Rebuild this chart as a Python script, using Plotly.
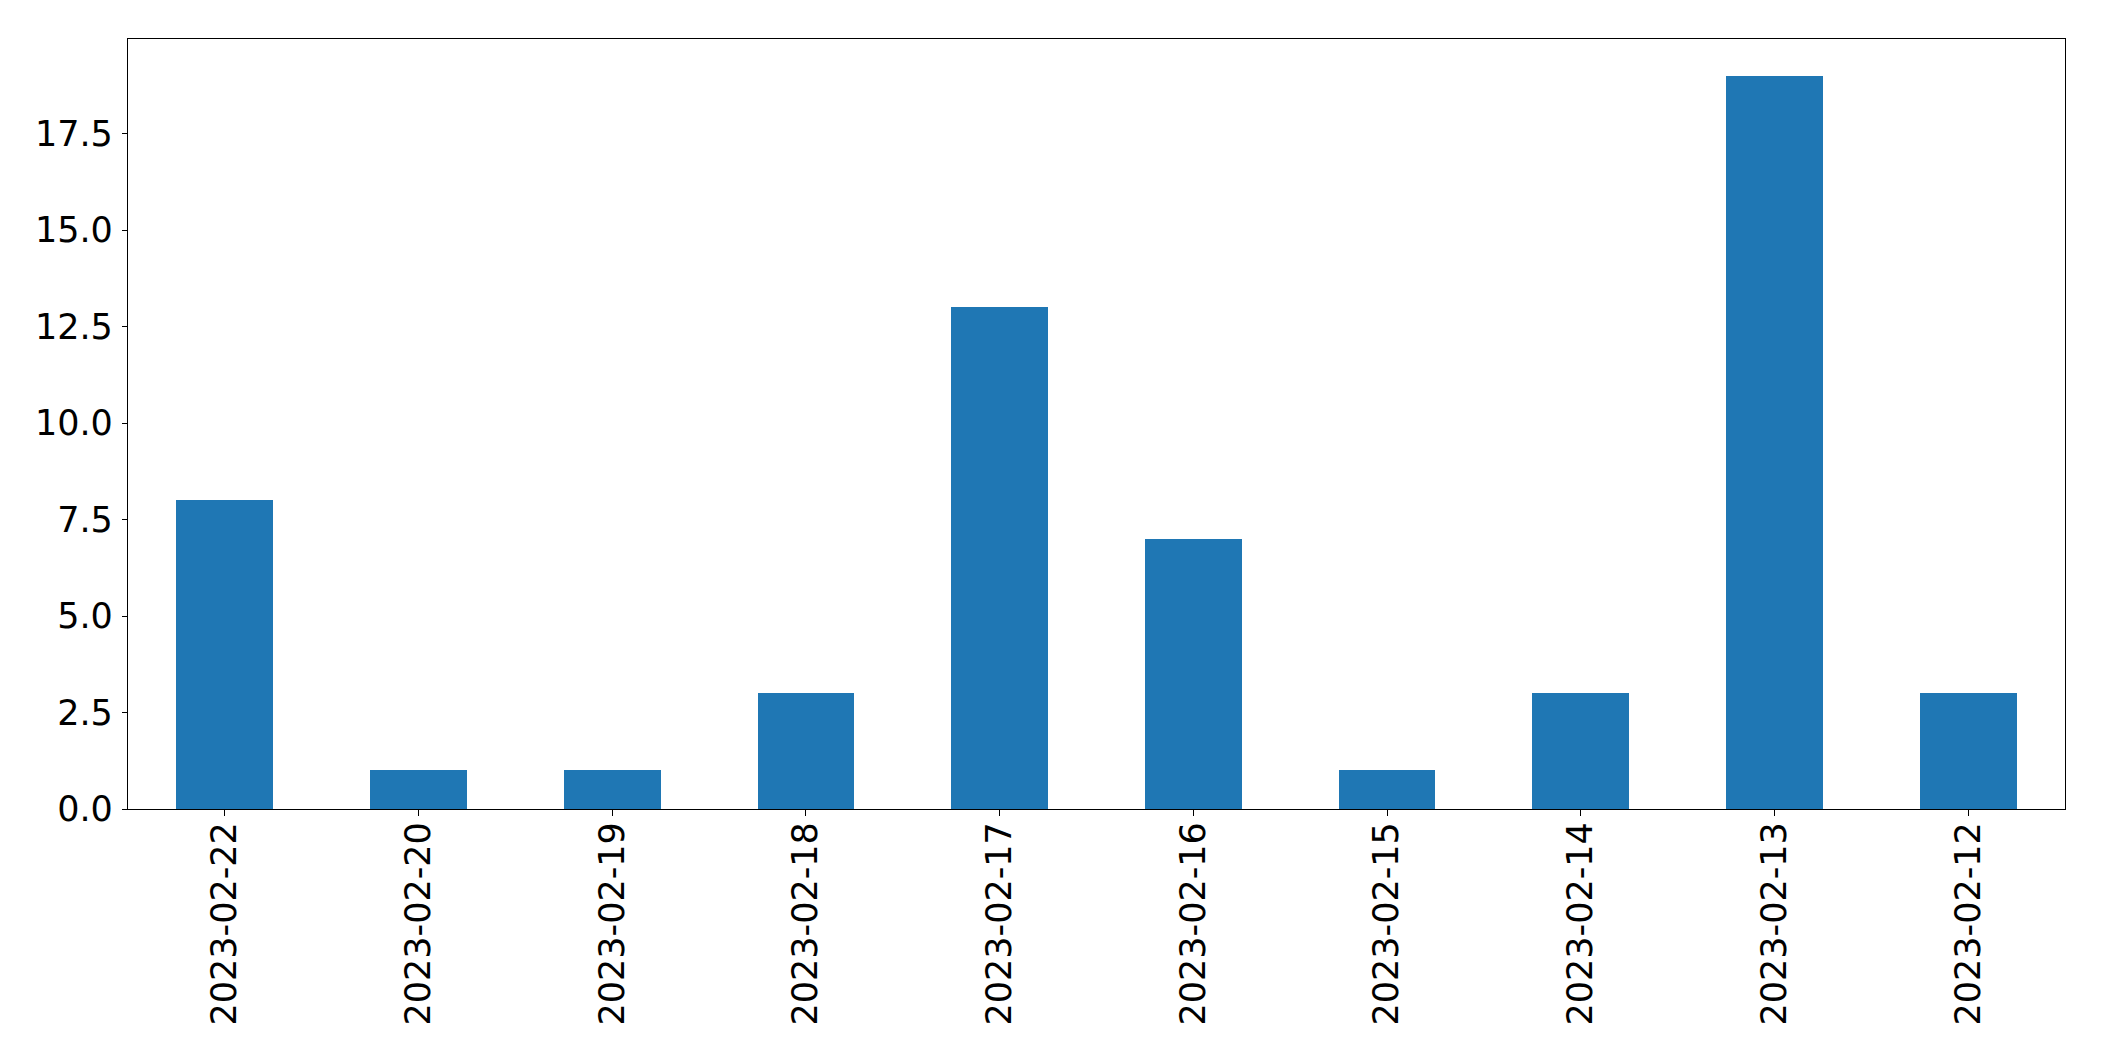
import plotly.graph_objects as go

categories = ["2023-02-22", "2023-02-20", "2023-02-19", "2023-02-18", "2023-02-17",
              "2023-02-16", "2023-02-15", "2023-02-14", "2023-02-13", "2023-02-12"]
values = [8, 1, 1, 3, 13, 7, 1, 3, 19, 3]
y_ticks = [0, 2.5, 5, 7.5, 10, 12.5, 15, 17.5]

fig = go.Figure(go.Bar(x=categories, y=values, width=0.5, marker=dict(color="#1f77b4", line=dict(width=0))))

# page body has an 8px margin, so the figure is offset by 8px
fig.update_layout(
    width=2096, height=1053,
    margin=dict(l=119.5, r=38.7, t=31.3, b=252, autoexpand=False),
    plot_bgcolor="white", paper_bgcolor="white",
    font=dict(family="DejaVu Sans", size=35, color="black"),
    showlegend=False,
    bargap=0,
)
fig.update_xaxes(
    type="category", range=[-0.5, 9.5], tickangle=-90,
    showline=True, linecolor="black", linewidth=1.3, mirror=True,
    ticks="outside", ticklen=6, tickwidth=1.3, tickcolor="black",
    showgrid=False, zeroline=False, ticklabelstandoff=-8, automargin=False,
)
fig.update_yaxes(
    range=[0, 19.95], tickvals=y_ticks, tickformat=".1f",
    showline=True, linecolor="black", linewidth=1.3, mirror=True,
    ticks="outside", ticklen=5, tickwidth=1.3, tickcolor="black",
    showgrid=False, zeroline=False, automargin=False, ticklabelstandoff=2,
)
fig.write_html("out.html")
